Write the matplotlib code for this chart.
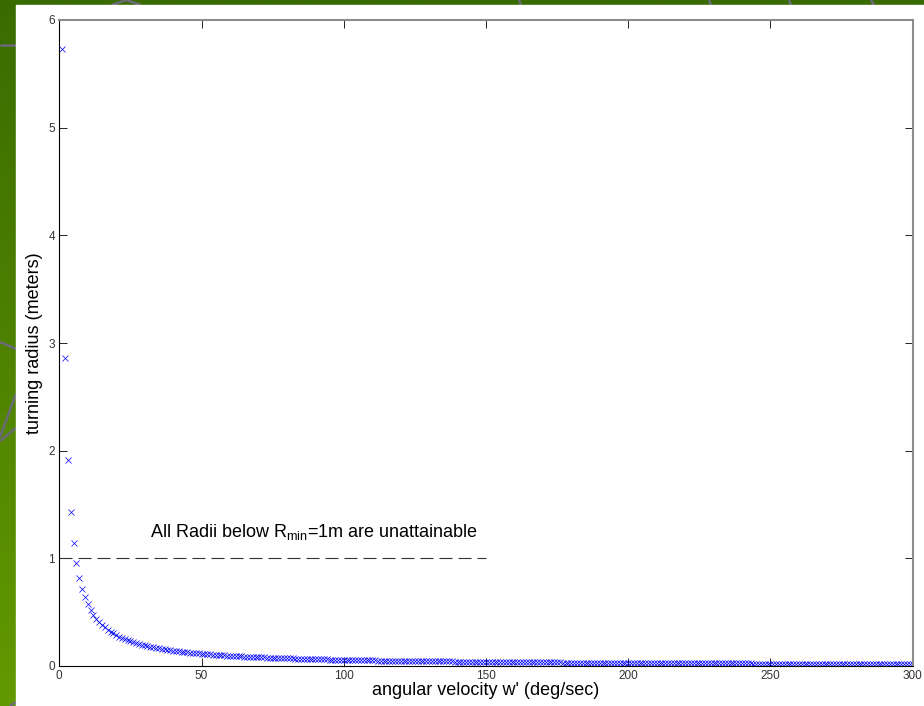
import numpy as np
import matplotlib.pyplot as plt
from matplotlib.patches import Rectangle

plt.rcParams['font.family'] = ['Liberation Sans', 'DejaVu Sans']
plt.rcParams['mathtext.fontset'] = 'custom'
plt.rcParams['mathtext.rm'] = 'Liberation Sans'

# angular velocity samples (deg/sec)
w = np.arange(1, 301)

# turning radius (meters), one value per w
radius = [
    5.730, 2.865, 1.910, 1.432, 1.146, 0.955, 0.819, 0.716, 0.637, 0.573,
    0.521, 0.477, 0.441, 0.409, 0.382, 0.358, 0.337, 0.318, 0.302, 0.286,
    0.273, 0.260, 0.249, 0.239, 0.229, 0.220, 0.212, 0.205, 0.198, 0.191,
    0.185, 0.179, 0.174, 0.169, 0.164, 0.159, 0.155, 0.151, 0.147, 0.143,
    0.140, 0.136, 0.133, 0.130, 0.127, 0.125, 0.122, 0.119, 0.117, 0.115,
    0.112, 0.110, 0.108, 0.106, 0.104, 0.102, 0.101, 0.099, 0.097, 0.095,
    0.094, 0.092, 0.091, 0.090, 0.088, 0.087, 0.086, 0.084, 0.083, 0.082,
    0.081, 0.080, 0.078, 0.077, 0.076, 0.075, 0.074, 0.073, 0.073, 0.072,
    0.071, 0.070, 0.069, 0.068, 0.067, 0.067, 0.066, 0.065, 0.064, 0.064,
    0.063, 0.062, 0.062, 0.061, 0.060, 0.060, 0.059, 0.058, 0.058, 0.057,
    0.057, 0.056, 0.056, 0.055, 0.055, 0.054, 0.054, 0.053, 0.053, 0.052,
    0.052, 0.051, 0.051, 0.050, 0.050, 0.049, 0.049, 0.049, 0.048, 0.048,
    0.047, 0.047, 0.047, 0.046, 0.046, 0.045, 0.045, 0.045, 0.044, 0.044,
    0.044, 0.043, 0.043, 0.043, 0.042, 0.042, 0.042, 0.042, 0.041, 0.041,
    0.041, 0.040, 0.040, 0.040, 0.040, 0.039, 0.039, 0.039, 0.038, 0.038,
    0.038, 0.038, 0.037, 0.037, 0.037, 0.037, 0.036, 0.036, 0.036, 0.036,
    0.036, 0.035, 0.035, 0.035, 0.035, 0.035, 0.034, 0.034, 0.034, 0.034,
    0.034, 0.033, 0.033, 0.033, 0.033, 0.033, 0.032, 0.032, 0.032, 0.032,
    0.032, 0.031, 0.031, 0.031, 0.031, 0.031, 0.031, 0.030, 0.030, 0.030,
    0.030, 0.030, 0.030, 0.030, 0.029, 0.029, 0.029, 0.029, 0.029, 0.029,
    0.029, 0.028, 0.028, 0.028, 0.028, 0.028, 0.028, 0.028, 0.027, 0.027,
    0.027, 0.027, 0.027, 0.027, 0.027, 0.027, 0.026, 0.026, 0.026, 0.026,
    0.026, 0.026, 0.026, 0.026, 0.025, 0.025, 0.025, 0.025, 0.025, 0.025,
    0.025, 0.025, 0.025, 0.024, 0.024, 0.024, 0.024, 0.024, 0.024, 0.024,
    0.024, 0.024, 0.024, 0.023, 0.023, 0.023, 0.023, 0.023, 0.023, 0.023,
    0.023, 0.023, 0.023, 0.023, 0.022, 0.022, 0.022, 0.022, 0.022, 0.022,
    0.022, 0.022, 0.022, 0.022, 0.022, 0.022, 0.021, 0.021, 0.021, 0.021,
    0.021, 0.021, 0.021, 0.021, 0.021, 0.021, 0.021, 0.021, 0.021, 0.020,
    0.020, 0.020, 0.020, 0.020, 0.020, 0.020, 0.020, 0.020, 0.020, 0.020,
    0.020, 0.020, 0.020, 0.020, 0.019, 0.019, 0.019, 0.019, 0.019, 0.019,
]

r_min = 1.0
r_min_span = [0, 150]

xticks = [0, 50, 100, 150, 200, 250, 300]
yticks = [0, 1, 2, 3, 4, 5, 6]

W, H = 924, 706
fig = plt.figure(figsize=(W / 100, H / 100), dpi=100)

# slide background: green gradient with the white figure pasted on it
bg = fig.add_axes([0, 0, 1, 1], zorder=0)
grad = np.linspace(0, 1, 256)[:, None]
top_c = np.array([0x3a, 0x6b, 0x00]) / 255
bot_c = np.array([0x63, 0x99, 0x00]) / 255
img = top_c[None, None, :] * (1 - grad[:, :, None]) + bot_c[None, None, :] * grad[:, :, None]
bg.imshow(img, aspect='auto', extent=[0, W, H, 0])

# grey decoration strokes of the slide design (pixel coords, y down)
strokes = [
    [(0, 45), (16, 45)],
    [(0, 342), (16, 349)],
    [(16, 394), (0, 437)],
    [(0, 441), (16, 428)],
    [(112, 5), (126, 0), (141, 5)],
    [(519, 0), (521, 5)],
    [(709, 0), (711, 5)],
    [(789, 0), (791, 5)],
    [(871, 0), (874, 5)],
    [(10, 706), (16, 702)],
]
for s in strokes:
    xs, ys = zip(*s)
    bg.plot(xs, ys, color='#6a6a78', linewidth=1.8, solid_capstyle='butt')

bg.add_patch(Rectangle((16, 5), W, H, color='white', zorder=3))
bg.set_xlim(0, W)
bg.set_ylim(H, 0)
bg.axis('off')

ax = fig.add_axes([59.3 / W, (H - 666) / H, 853.4 / W, 646 / H], zorder=1)
ax.patch.set_alpha(0)

ax.plot(w, radius, linestyle='none', marker='x', color='blue',
        markersize=4.8, markeredgewidth=0.5)
ax.plot(r_min_span, [r_min, r_min], color='#333333', linewidth=0.8,
        linestyle=(0, (11.7, 5.4)))
ax.text(32, 1.2, r'All Radii below R$_{\mathrm{min}}$=1m are unattainable',
        fontsize=13, va='baseline', ha='left')

ax.set_xlim(0, 300)
ax.set_ylim(0, 6)
ax.set_xticks(xticks)
ax.set_yticks(yticks)
ax.tick_params(direction='in', length=6, width=0.6, top=True, right=True,
               labelsize=8.5, labelcolor='#333333', pad=3)
for s in ['left', 'bottom']:
    ax.spines[s].set_linewidth(0.8)
    ax.spines[s].set_color('black')
for s in ['top', 'right']:
    ax.spines[s].set_linewidth(1.5)
    ax.spines[s].set_color('#8c8c8c')

ax.set_xlabel("angular velocity w' (deg/sec)", fontsize=13, labelpad=0)
ax.set_ylabel('turning radius (meters)', fontsize=13, labelpad=4)

fig.savefig('out.png', dpi=100)
